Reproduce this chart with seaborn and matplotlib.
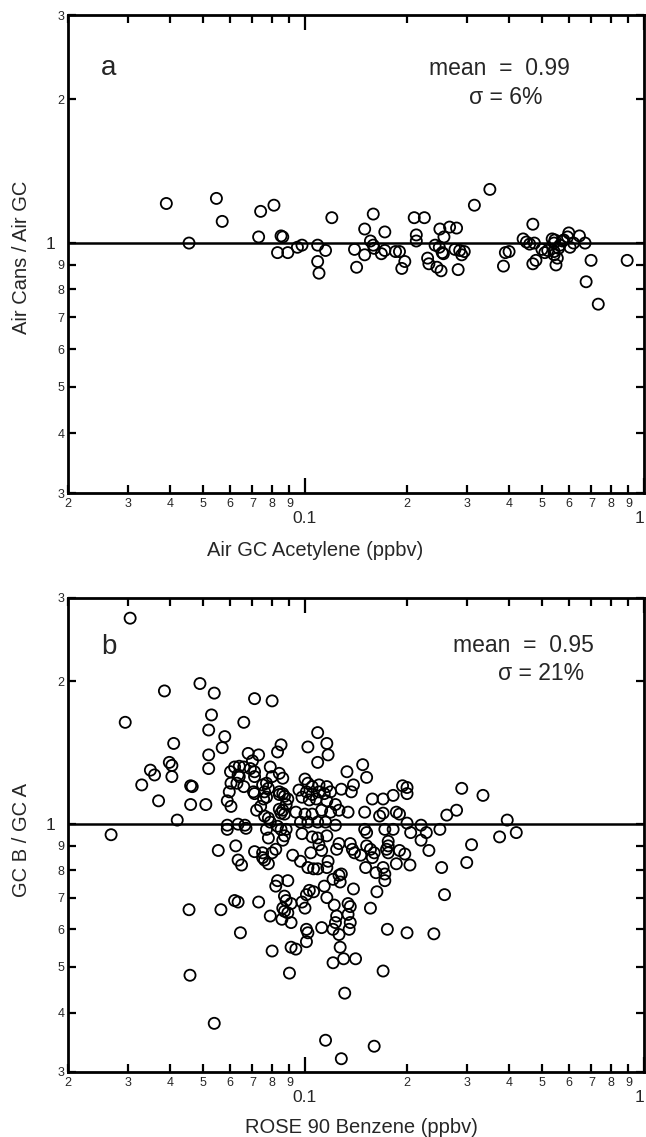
import matplotlib
matplotlib.use("Agg")
import matplotlib.pyplot as plt
import seaborn as sns
import pandas as pd

# ---------------- data ----------------
# Panel a: Air GC acetylene (ppbv) vs Air Cans / Air GC
a_x = [0.039, 0.0455, 0.0548, 0.057, 0.074, 0.073, 0.081, 0.083, 0.085, 0.086,
       0.089, 0.095, 0.098, 0.109, 0.109, 0.110, 0.115, 0.120, 0.140, 0.142,
       0.150, 0.150, 0.156, 0.159, 0.159, 0.160, 0.168, 0.172, 0.172, 0.185,
       0.190, 0.193, 0.197, 0.210, 0.213, 0.213, 0.225, 0.230, 0.232, 0.242,
       0.245, 0.250, 0.252, 0.254, 0.256, 0.257, 0.249, 0.267, 0.280, 0.277,
       0.283, 0.286, 0.290, 0.295, 0.316, 0.351, 0.385, 0.390, 0.400, 0.440,
       0.450, 0.460, 0.470, 0.470, 0.480, 0.475, 0.500, 0.510, 0.536, 0.543,
       0.546, 0.543, 0.543, 0.550, 0.560, 0.580, 0.595, 0.600, 0.605, 0.620,
       0.645, 0.670, 0.698, 0.675, 0.733, 0.892, 0.520, 0.565, 0.575, 0.555]
a_y = [1.21, 1.00, 1.24, 1.11, 1.165, 1.03, 1.20, 0.955, 1.035, 1.03,
       0.955, 0.98, 0.99, 0.99, 0.915, 0.865, 0.965, 1.13, 0.97, 0.89,
       1.07, 0.945, 1.01, 1.15, 0.99, 0.975, 0.95, 1.055, 0.965, 0.96,
       0.96, 0.885, 0.915, 1.13, 1.04, 1.01, 1.13, 0.93, 0.905, 0.99,
       0.89, 1.07, 0.875, 0.955, 0.95, 1.03, 0.98, 1.08, 1.075, 0.97,
       0.88, 0.965, 0.945, 0.96, 1.20, 1.295, 0.895, 0.955, 0.96, 1.02,
       1.005, 0.995, 1.095, 0.905, 0.92, 1.00, 0.97, 0.955, 1.02, 1.00,
       1.015, 0.96, 0.945, 0.90, 0.975, 1.015, 1.03, 1.05, 0.98, 1.00,
       1.035, 1.00, 0.92, 0.83, 0.745, 0.92, 0.965, 0.99, 1.01, 0.93]

# Panel b: ROSE 90 benzene (ppbv) vs GC B / GC A
b_x = [0.0305, 0.0295, 0.0268, 0.0385, 0.049, 0.054, 0.053, 0.052, 0.052, 0.052,
       0.051, 0.046, 0.041, 0.0398, 0.0405, 0.0405, 0.035, 0.036, 0.033, 0.037,
       0.042, 0.046, 0.0465, 0.0455, 0.0458, 0.054, 0.0555, 0.0565, 0.057, 0.058,
       0.0603, 0.0605, 0.0598, 0.059, 0.0605, 0.059, 0.059, 0.0625, 0.0635, 0.065,
       0.062, 0.0635, 0.0645, 0.066, 0.071, 0.080, 0.068, 0.073, 0.070, 0.062,
       0.064, 0.066, 0.0635, 0.064, 0.063, 0.066, 0.071, 0.069, 0.071, 0.0635,
       0.0665, 0.067, 0.0705, 0.071, 0.072, 0.071, 0.073, 0.075, 0.075, 0.076,
       0.078, 0.079, 0.083, 0.085, 0.080, 0.084, 0.086, 0.075, 0.077, 0.078,
       0.076, 0.077, 0.0755, 0.074, 0.076, 0.078, 0.079, 0.077, 0.078, 0.080,
       0.082, 0.083, 0.082, 0.079, 0.080, 0.084, 0.084, 0.086, 0.087, 0.089,
       0.088, 0.084, 0.086, 0.085, 0.087, 0.083, 0.085, 0.087, 0.086, 0.088,
       0.089, 0.087, 0.088, 0.086, 0.087, 0.089, 0.0855, 0.090, 0.091, 0.094,
       0.091, 0.091, 0.100, 0.098, 0.101, 0.102, 0.101, 0.101, 0.103, 0.097,
       0.092, 0.102, 0.109, 0.112, 0.106, 0.104, 0.102, 0.109, 0.116, 0.117,
       0.109, 0.100, 0.102, 0.105, 0.110, 0.116, 0.096, 0.101, 0.105, 0.110,
       0.114, 0.119, 0.098, 0.103, 0.108, 0.116, 0.123, 0.094, 0.100, 0.105,
       0.112, 0.119, 0.126, 0.134, 0.097, 0.102, 0.109, 0.115, 0.123, 0.098,
       0.105, 0.109, 0.116, 0.110, 0.112, 0.117, 0.116, 0.106, 0.114, 0.121,
       0.126, 0.128, 0.127, 0.116, 0.122, 0.124, 0.123, 0.121, 0.126, 0.127,
       0.121, 0.130, 0.134, 0.136, 0.134, 0.136, 0.135, 0.131, 0.115, 0.128,
       0.160, 0.141, 0.139, 0.124, 0.126, 0.138, 0.140, 0.136, 0.133, 0.139,
       0.137, 0.128, 0.148, 0.152, 0.150, 0.150, 0.152, 0.146, 0.152, 0.156,
       0.160, 0.158, 0.151, 0.156, 0.158, 0.166, 0.170, 0.170, 0.182, 0.186,
       0.190, 0.194, 0.200, 0.200, 0.162, 0.170, 0.172, 0.172, 0.163, 0.170,
       0.175, 0.176, 0.176, 0.174, 0.176, 0.172, 0.182, 0.186, 0.190, 0.197,
       0.200, 0.205, 0.204, 0.200, 0.220, 0.228, 0.220, 0.232, 0.240, 0.250,
       0.253, 0.258, 0.262, 0.280, 0.290, 0.310, 0.300, 0.335, 0.375, 0.395,
       0.420]
b_y = [2.72, 1.64, 0.95, 1.91, 1.98, 1.89, 1.70, 1.58, 1.40, 1.31,
       1.10, 1.10, 1.48, 1.35, 1.33, 1.26, 1.30, 1.27, 1.21, 1.12,
       1.02, 1.205, 1.20, 0.66, 0.48, 0.38, 0.88, 0.66, 1.45, 1.53,
       1.29, 1.22, 1.17, 1.12, 1.09, 0.995, 0.975, 0.90, 0.84, 0.82,
       0.69, 0.685, 0.59, 1.64, 1.84, 1.82, 1.41, 1.40, 1.36, 1.32,
       1.325, 1.32, 1.27, 1.26, 1.22, 1.20, 1.29, 1.31, 1.26, 1.00,
       0.995, 0.98, 1.17, 1.16, 1.07, 0.875, 0.685, 0.87, 0.85, 0.84,
       0.825, 1.32, 1.42, 1.47, 1.26, 1.28, 1.25, 1.21, 1.22, 1.19,
       1.17, 1.14, 1.13, 1.09, 1.04, 1.03, 1.01, 0.975, 0.935, 0.87,
       0.885, 0.76, 0.74, 0.64, 0.54, 1.17, 1.155, 1.16, 1.145, 1.13,
       1.10, 1.075, 1.07, 1.055, 1.05, 0.99, 0.975, 0.945, 0.925, 0.975,
       0.76, 0.705, 0.69, 0.665, 0.655, 0.65, 0.63, 0.485, 0.55, 0.545,
       0.62, 0.68, 0.665, 0.685, 0.60, 0.59, 0.565, 0.71, 0.725, 0.835,
       0.86, 0.81, 0.805, 0.605, 0.72, 0.87, 1.455, 1.56, 1.48, 1.40,
       1.35, 1.245, 1.22, 1.20, 1.21, 1.20, 1.18, 1.17, 1.155, 1.17,
       1.16, 1.17, 1.14, 1.125, 1.13, 1.12, 1.10, 1.06, 1.05, 1.05,
       1.07, 1.06, 1.07, 1.06, 1.01, 1.01, 1.01, 1.01, 0.995, 0.955,
       0.94, 0.935, 0.945, 0.905, 0.88, 0.835, 0.81, 0.805, 0.74, 0.765,
       0.78, 0.785, 0.755, 0.70, 0.675, 0.64, 0.62, 0.60, 0.585, 0.55,
       0.51, 0.52, 0.68, 0.67, 0.645, 0.62, 0.60, 0.44, 0.35, 0.32,
       0.34, 0.52, 0.73, 0.885, 0.91, 0.885, 0.87, 0.91, 1.29, 1.21,
       1.17, 1.185, 1.335, 1.255, 1.06, 0.975, 0.96, 0.86, 0.90, 0.885,
       0.87, 0.85, 0.81, 0.665, 1.13, 1.04, 1.055, 1.13, 1.15, 1.06,
       1.05, 1.205, 1.195, 1.16, 0.79, 0.81, 0.785, 0.76, 0.72, 0.49,
       0.60, 0.92, 0.90, 0.885, 0.87, 0.975, 0.975, 0.825, 0.88, 0.865,
       1.005, 0.96, 0.82, 0.59, 0.995, 0.96, 0.925, 0.88, 0.587, 0.975,
       0.81, 0.71, 1.045, 1.07, 1.19, 0.905, 0.83, 1.15, 0.94, 1.02,
       0.96]

# Axis ticks and labels
x_major = [0.1, 1]
x_major_labels = ["0.1", "1"]
x_minor = [0.02, 0.03, 0.04, 0.05, 0.06, 0.07, 0.08, 0.09,
           0.2, 0.3, 0.4, 0.5, 0.6, 0.7, 0.8, 0.9]
x_minor_labels = ["2", "3", "4", "5", "6", "7", "8", "9",
                  "2", "3", "4", "5", "6", "7", "8", "9"]
y_major = [1]
y_major_labels = ["1"]
y_minor = [0.3, 0.4, 0.5, 0.6, 0.7, 0.8, 0.9, 2, 3]
y_minor_labels = ["3", "4", "5", "6", "7", "8", "9", "2", "3"]

panels = [
    dict(x=a_x, y=a_y, letter="a", mean="mean  =  0.99", sigma="σ = 6%",
         xlabel="Air GC Acetylene (ppbv)", ylabel="Air Cans / Air GC"),
    dict(x=b_x, y=b_y, letter="b", mean="mean  =  0.95", sigma="σ = 21%",
         xlabel="ROSE 90 Benzene (ppbv)", ylabel="GC B / GC A"),
]

# ---------------- figure ----------------
sns.set_theme(style="ticks")
plt.rcParams["font.family"] = ["Liberation Sans", "DejaVu Sans"]
plt.rcParams["axes.unicode_minus"] = False

W, H = 646, 1137
fig = plt.figure(figsize=(W / 100, H / 100), dpi=100)

# axes boxes in pixels: (left, top, right, bottom)
boxes = [(68, 15, 644, 493), (68, 598, 644, 1072)]
# text placement in axes fractions
letter_pos = [(0.071, 0.889), (0.071, 0.897)]
mean_pos = [(0.872, 0.889), (0.913, 0.899)]
sigma_pos = [(0.823, 0.828), (0.896, 0.840)]
xlabel_pos = [(0.429, -0.100), (0.509, -0.096)]
ylabel_pos = [(-0.064, 0.494), (-0.064, 0.49)]

for i, p in enumerate(panels):
    l, t, r, b = boxes[i]
    ax = fig.add_axes([l / W, 1 - b / H, (r - l) / W, (b - t) / H])
    df = pd.DataFrame({"x": p["x"], "y": p["y"]})
    sns.scatterplot(data=df, x="x", y="y", ax=ax, s=64, marker="o",
                    facecolors="none", edgecolor="black", linewidth=1.3,
                    legend=False, zorder=3)
    ax.set_xscale("log")
    ax.set_yscale("log")
    ax.set_xlim(0.02, 1)
    ax.set_ylim(0.3, 3)
    ax.axhline(1, color="black", lw=1.8, zorder=2)

    ax.set_xticks(x_major, x_major_labels)
    ax.set_xticks(x_minor, x_minor_labels, minor=True)
    ax.set_yticks(y_major, y_major_labels)
    ax.set_yticks(y_minor, y_minor_labels, minor=True)

    ax.tick_params(which="both", direction="in", top=True, right=True,
                   labeltop=False, labelright=False, color="black", width=1.6)
    ax.tick_params(axis="x", which="major", length=11, pad=13, labelsize=12.5)
    ax.tick_params(axis="x", which="minor", length=5.5, pad=3.5, labelsize=9)
    ax.tick_params(axis="y", which="major", length=5.5, pad=9, labelsize=12.5)
    ax.tick_params(axis="y", which="minor", length=5.5, pad=2.5, labelsize=9)
    # keep the "1" at the right edge inside the picture
    ax.get_xticklabels()[-1].set_horizontalalignment("right")
    for s in ax.spines.values():
        s.set_linewidth(2.0)
        s.set_color("black")

    ax.set_xlabel(p["xlabel"], fontsize=14.5)
    ax.set_ylabel(p["ylabel"], fontsize=14.5)
    ax.xaxis.set_label_coords(*xlabel_pos[i])
    ax.yaxis.set_label_coords(*ylabel_pos[i])

    ax.text(*letter_pos[i], p["letter"], transform=ax.transAxes,
            fontsize=20, ha="center", va="center")
    ax.text(*mean_pos[i], p["mean"], transform=ax.transAxes,
            fontsize=16.5, ha="right", va="center")
    ax.text(*sigma_pos[i], p["sigma"], transform=ax.transAxes,
            fontsize=16.5, ha="right", va="center")

fig.savefig("out.png", dpi=100)
